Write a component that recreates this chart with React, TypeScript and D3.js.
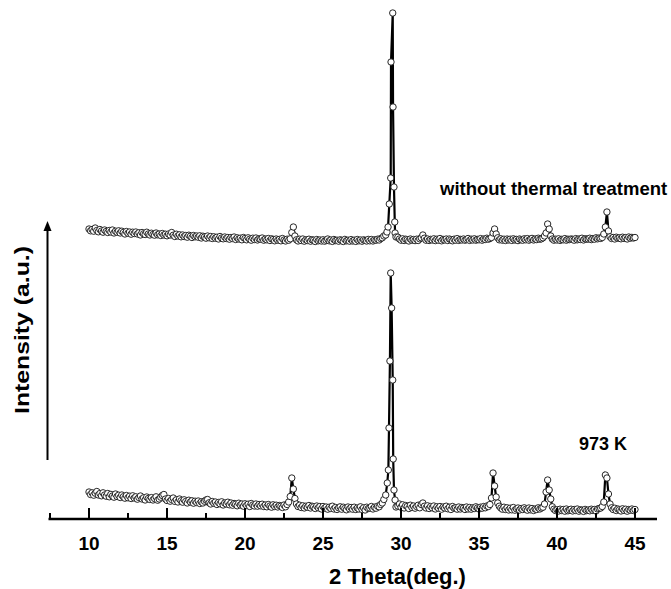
import React from "react";
import * as d3 from "d3";

// 2θ sampling grid: 10.0 → 45.0, step 0.1 (351 points)
const THETA_START = 10;
const THETA_STEP = 0.1;

// Lower pattern (973 K), intensity in a.u., one row per degree (x.0 … x.9)
const lower973K: (number | null)[] = [
  270, 245, 262, 238, 258, 275, 240, 255, 232, 262,
  240, 228, 255, 222, 246, 230, 218, 250, 225, 238,
  215, 240, 222, 208, 235, 212, 228, 205, 232, 210,
  222, 198, 215, 230, 200, 212, 190, 220, 205, 195,
  214, 190, 205, 222, 188, 200, 218, 235, 245, 200,
  185, 205, 178, 195, 210, 176, 192, 170, 200, 182,
  168, 192, 175, 160, 188, 170, 182, 158, 178, 165,
  180, 155, 172, 160, 178, 190, 195, 162, 150, 175,
  158, 170, 145, 165, 152, 172, 140, 160, 150, 168,
  142, 160, 138, 155, 148, 132, 158, 140, 150, 128,
  152, 135, 148, 125, 155, 140, 130, 150, 128, 145,
  132, 148, 125, 140, 122, 145, 130, 118, 142, 125,
  138, 120, 135, 128, 115, 140, 122, 145, 170, 225,
  410, 300, 205, 150, 125, 138, 115, 132, 110, 128,
  118, 135, 110, 128, 122, 105, 130, 112, 125, 100,
  125, 108, 120, 98, 118, 105, 128, 100, 115, 95,
  112, 122, 98, 118, 105, 92, 120, 102, 115, 98,
  118, 95, 110, 100, 122, 96, 112, 90, 118, 105,
  110, 125, 100, 118, 108, 128, 122, 145, 160, 195,
  null, null, null, null, null, null, null, null, 130, 150,
  118, 142, 110, 135, 125, 105, 138, 115, 130, 108,
  125, 138, 112, 145, 160, 128, 110, 132, 105, 125,
  112, 130, 100, 122, 108, 125, 98, 120, 110, 128,
  102, 118, 95, 125, 108, 112, 98, 120, 100, 115,
  108, 95, 120, 100, 115, 98, 112, 105, 122, 110,
  100, 118, 108, 125, 112, 130, 125, 145, 210, 460,
  330, 220, 160, 128, 110, 98, 118, 95, 112, 90,
  108, 92, 115, 88, 102, 110, 90, 105, 95, 112,
  98, 88, 110, 92, 105, 85, 100, 95, 112, 100,
  110, 118, 150, 270, 390, 290, 200, 122, 98, 85,
  92, 80, 98, 85, 95, 78, 100, 82, 90, 98,
  80, 95, 85, 100, 78, 92, 88, 76, 96, 84,
  90, 82, 98, 86, 95, 80, 100, 105, 110, 125,
  170, 440, 410, 250, 150, 112, 95, 108, 85, 100,
  92, 80, 102, 86, 98, 78, 95, 88, 100, 85,
  95,
];

// Lower pattern main reflection (fine steps), [2θ, intensity]
const lowerMainPeak: [number, number][] = [
  [29.02, 240], [29.12, 360], [29.19, 490], [29.23, 910], [29.29, 1580],
  [29.34, 2460], [29.40, 2110], [29.47, 1390], [29.50, 600], [29.55, 290],
  [29.62, 190], [29.68, 120],
];

// Upper pattern (without thermal treatment), intensity in a.u.
const upperUntreated: (number | null)[] = [
  200, 182, 195, 178, 210, 185, 172, 195, 180, 168,
  190, 175, 165, 185, 170, 190, 160, 178, 168, 182,
  160, 178, 165, 150, 175, 158, 170, 148, 168, 155,
  170, 150, 162, 140, 165, 152, 145, 168, 150, 140,
  158, 145, 138, 160, 142, 150, 135, 155, 140, 148,
  132, 150, 140, 165, 138, 125, 148, 130, 142, 122,
  140, 125, 135, 118, 138, 128, 115, 135, 122, 130,
  118, 132, 110, 128, 120, 108, 130, 112, 125, 105,
  122, 108, 118, 100, 125, 110, 102, 120, 105, 115,
  98, 115, 105, 120, 95, 112, 100, 108, 92, 115,
  105, 92, 112, 98, 88, 108, 95, 110, 90, 102,
  98, 110, 88, 100, 92, 105, 85, 102, 95, 82,
  100, 88, 96, 82, 105, 90, 80, 98, 88, 102,
  165, 220, 130, 92, 80, 98, 85, 100, 78, 92,
  85, 98, 78, 92, 88, 75, 95, 82, 90, 80,
  92, 78, 88, 100, 82, 90, 76, 95, 84, 88,
  78, 92, 85, 75, 96, 82, 88, 78, 94, 80,
  88, 76, 95, 82, 90, 78, 92, 85, 80, 96,
  82, 95, 80, 92, 88, 98, 90, 105, 112, 130,
  null, null, null, null, null, null, null, null, 118, 100,
  88, 102, 85, 98, 92, 80, 100, 88, 95, 84,
  98, 85, 102, 112, 140, 108, 88, 100, 85, 96,
  90, 102, 84, 98, 88, 105, 82, 96, 90, 100,
  85, 100, 92, 82, 98, 88, 104, 86, 96, 90,
  100, 88, 95, 105, 86, 98, 90, 102, 88, 96,
  92, 104, 88, 100, 95, 108, 98, 105, 115, 160,
  200, 150, 112, 92, 102, 88, 98, 85, 100, 90,
  98, 86, 102, 90, 96, 84, 100, 92, 88, 102,
  92, 104, 88, 98, 106, 90, 100, 94, 108, 98,
  102, 112, 130, 160, 250, 200, 130, 100, 88, 98,
  90, 102, 86, 96, 92, 104, 88, 98, 94, 100,
  96, 88, 104, 92, 100, 95, 108, 90, 102, 98,
  100, 108, 94, 104, 98, 112, 102, 110, 106, 115,
  150, 220, 370, 180, 122, 105, 115, 100, 118, 108,
  112, 102, 118, 106, 114, 100, 120, 108, 116, 110,
  115,
];

const upperMainPeak: [number, number][] = [
  [29.02, 140], [29.10, 170], [29.17, 220], [29.25, 450], [29.34, 710],
  [29.36, 1870], [29.47, 2360], [29.49, 1420], [29.55, 620], [29.60, 270],
  [29.62, 160], [29.68, 120],
];

const UPPER_OFFSET = 2700;

const majorTicks = [10, 15, 20, 25, 30, 35, 40, 45];
const minorTicks = [7.5, 12.5, 17.5, 22.5, 27.5, 32.5, 37.5, 42.5];

const labelUpper = "without thermal treatment";
const labelLower = "973 K";
const xTitle = "2 Theta(deg.)";
const yTitle = "Intensity (a.u.)";

const FONT = "'Liberation Sans', Arial, Helvetica, sans-serif";

function buildSeries(grid: (number | null)[], peak: [number, number][], offset: number) {
  const pts: [number, number][] = [];
  grid.forEach((v, i) => {
    if (v !== null) pts.push([+(THETA_START + i * THETA_STEP).toFixed(2), v + offset]);
  });
  peak.forEach(([t, v]) => pts.push([t, v + offset]));
  pts.sort((a, b) => a[0] - b[0]);
  return pts;
}

export default function App() {
  const W = 671;
  const H = 589;
  const x = d3.scaleLinear().domain([10, 45]).range([89, 635]);
  const y = d3.scaleLinear().domain([0, 5060]).range([519, 13]);
  const axisY = 519;

  const lowerPts = buildSeries(lower973K, lowerMainPeak, 0);
  const upperPts = buildSeries(upperUntreated, upperMainPeak, UPPER_OFFSET);

  const line = d3
    .line<[number, number]>()
    .x((d) => x(d[0]))
    .y((d) => y(d[1]));

  const renderSeries = (pts: [number, number][], key: string) => (
    <g key={key}>
      <path d={line(pts) || ""} fill="none" stroke="#000" strokeWidth={2.2} />
      {pts.map((d, i) => (
        <circle
          key={i}
          cx={x(d[0])}
          cy={y(d[1])}
          r={3.2}
          fill="#fff"
          stroke="#111"
          strokeWidth={0.9}
        />
      ))}
    </g>
  );

  const xEnd = 657;

  return (
    <svg
      width={W}
      height={H}
      style={{ position: "absolute", left: 0, top: 0, background: "#fff" }}
      fontFamily={FONT}
    >
      <rect width={W} height={H} fill="#fff" />
      {renderSeries(upperPts, "upper")}
      {renderSeries(lowerPts, "lower")}

      {/* x axis */}
      <line x1={x(7.5) - 1.5} x2={xEnd} y1={axisY} y2={axisY} stroke="#000" strokeWidth={2.6} />
      {majorTicks.map((t) => (
        <line key={"M" + t} x1={x(t)} x2={x(t)} y1={axisY} y2={axisY - 11} stroke="#000" strokeWidth={2} />
      ))}
      {minorTicks.map((t) => (
        <line key={"m" + t} x1={x(t)} x2={x(t)} y1={axisY} y2={axisY - 6} stroke="#000" strokeWidth={2} />
      ))}
      {majorTicks.map((t) => (
        <text
          key={"l" + t}
          x={x(t)}
          y={550}
          textAnchor="middle"
          fontSize={19}
          fontWeight="bold"
          fill="#000"
        >
          {t}
        </text>
      ))}
      <text x={397.5} y={584} textAnchor="middle" fontSize={22} fontWeight="bold" fill="#000">
        {xTitle}
      </text>

      {/* y arrow */}
      <line x1={47.5} x2={47.5} y1={460} y2={229} stroke="#000" strokeWidth={2} />
      <path d="M43.5,231 L47.5,221 L51.5,231 Z" fill="#000" />
      <text
        transform="translate(29,330) rotate(-90)"
        textAnchor="middle"
        fontSize={21}
        fontWeight="bold"
        fill="#000"
        textLength={168}
        lengthAdjust="spacingAndGlyphs"
      >
        {yTitle}
      </text>

      {/* annotations */}
      <text x={440} y={195} fontSize={18.5} fontWeight="bold" fill="#000">
        {labelUpper}
      </text>
      <text x={579} y={450} fontSize={18} fontWeight="bold" fill="#000">
        {labelLower}
      </text>
    </svg>
  );
}
